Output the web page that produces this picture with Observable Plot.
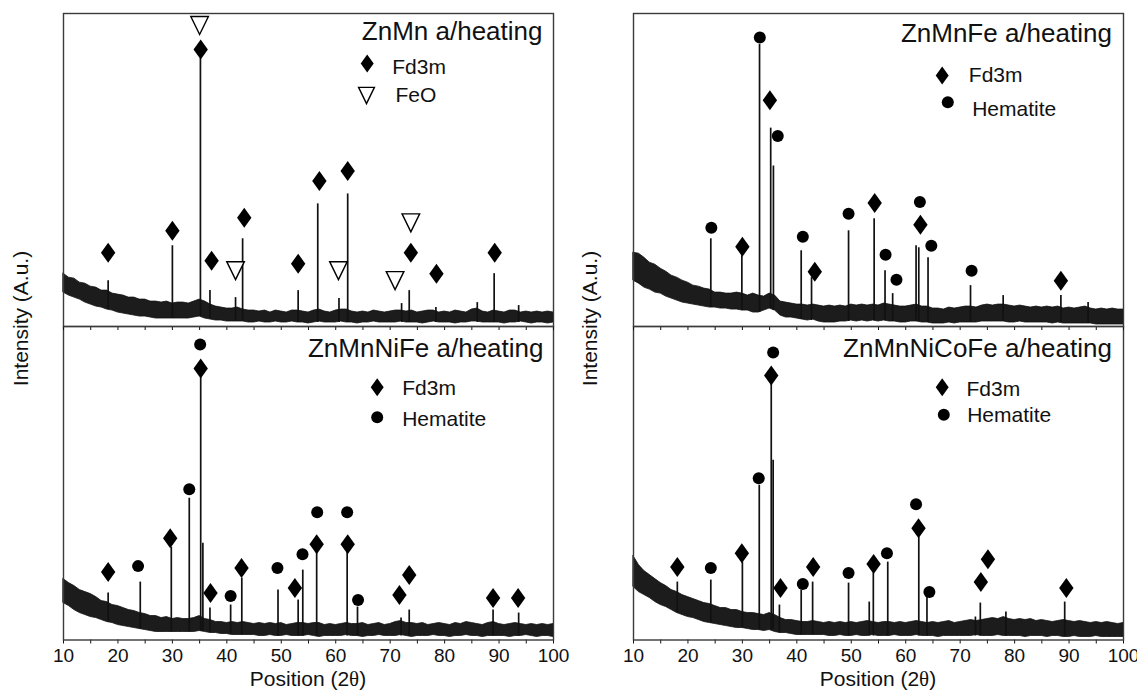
<!DOCTYPE html>
<html><head><meta charset="utf-8">
<script src="https://cdn.jsdelivr.net/npm/d3@7"></script>
<script src="https://cdn.jsdelivr.net/npm/@observablehq/plot@0.6"></script>
<style>
body{margin:0;background:#fff;}
#fig{position:relative;width:1137px;height:691px;overflow:hidden;background:#fff;}
#fig svg{position:absolute;overflow:visible;}
</style></head>
<body><div id="fig"></div>
<script>
// ---- sampling grid (2θ, degrees) for the background envelope ----
const theta = d3.range(10, 101);

// ---- ZnMn a/heating ----
const znmnHi = [53,49,48,44,43,40,39,36,36,33, 32,31,29,29,27,27,25,25,24,25, 23,24,24,23,25,27,25,22,20,19, 18,18,19,17,16,16,15,16,14,16, 15,14,16,16,15,14,16,17,15,14, 16,17,17,15,14,15,14,16,15,14, 15,16,16,15,16,14,15,16,16,14, 15,14,16,15,14,17,18,15,14,16, 15,14,16,16,14,15,14,15,14,15, 14];
const znmnLo = [34,31,29,27,24,22,20,19,17,16, 14,13,12,11,10,10,9,8,8,8, 8,8,8,8,9,10,8,7,6,6, 5,5,5,5,4,4,5,4,4,5, 4,4,5,4,4,3,4,5,4,4, 4,5,4,4,3,4,4,5,4,4, 4,4,5,4,4,4,3,4,5,4, 4,4,3,4,4,5,5,4,4,4, 4,3,4,4,5,4,3,4,4,3, 4];
// peaks: [2θ, apex, base]
const znmnPeaks = [[18.2,46,17],[30.0,81,8],[35.15,269,10],[36.9,36,8],[41.6,29,5],[42.9,88,5],[53.1,36,4],[56.7,123,4],[60.6,28,4],[62.2,133,4],[72.1,23,4],[73.5,36,4],[78.4,19,4],[86.0,24,4],[89.1,53,4],[93.6,21,4]];
const znmnFd3m = [[18.2,74],[30.0,96],[35.2,278],[37.2,66],[43.2,109],[53.1,63],[57.0,146],[62.2,156],[73.8,74],[78.5,53],[89.2,74]];
const znmnFeO = [[35.0,302],[41.6,56],[60.5,56],[70.9,46],[73.8,104]];

// ---- ZnMnNiFe a/heating ----
const znmnnifeHi = [61,57,54,50,48,46,43,39,38,35, 34,32,30,29,27,26,24,24,22,23, 21,22,21,21,22,24,21,20,18,18, 17,18,17,18,17,16,17,16,17,16, 17,15,16,17,17,16,17,17,15,16, 15,16,17,16,16,17,15,16,17,15, 16,18,19,17,17,16,17,15,16,17, 16,15,17,16,18,17,16,15,17,18, 16,15,16,17,16,15,16,15,16,15, 16];
const znmnnifeLo = [37,34,30,27,25,23,22,20,18,17, 15,14,13,12,11,10,9,8,8,8, 8,8,8,8,8,9,8,7,7,6, 6,5,5,5,5,5,4,4,5,4, 4,5,4,4,4,5,4,3,4,4, 4,4,5,4,4,3,4,4,5,4, 4,4,5,4,3,4,4,4,5,4, 4,3,4,4,5,4,4,3,4,4, 4,4,3,4,4,5,4,3,4,4, 3];
const znmnnifePeaks = [[18.2,47,18],[24.1,58,11],[29.8,93,8],[33.1,142,8],[35.2,263,9],[35.6,97,9],[36.9,32,8],[40.7,35,6],[42.75,62,5],[49.4,50,4],[53.1,40,4],[53.95,70,4],[56.5,90,4],[62.1,90,4],[64.0,33,4],[72.0,22,4],[73.5,30,4],[88.9,30,4],[93.6,27,4]];
const znmnnifeFd3m = [[18.2,68],[29.6,102],[35.2,272],[37.0,47],[42.7,72],[52.5,52],[56.5,96],[62.2,96],[71.7,45],[73.5,65],[88.9,42],[93.5,42]];
const znmnnifeHem = [[23.7,74],[33.1,151],[35.1,296],[40.7,44],[49.3,72],[53.9,86],[56.6,128],[62.1,128],[64.1,40]];

// ---- ZnMnFe a/heating ----
const znmnfeHi = [74,73,69,64,62,58,55,51,49,46, 44,41,40,38,37,34,34,33,33,34, 33,31,33,31,30,33,31,25,24,23, 22,22,21,22,21,20,21,20,21,20, 22,21,22,21,22,21,23,22,21,20, 20,21,22,20,20,18,18,17,19,18, 19,20,20,19,21,22,21,22,22,21, 20,21,20,19,20,19,20,19,20,18, 19,18,19,20,18,17,18,17,18,17, 17];
const znmnfeLo = [46,43,39,37,34,33,30,28,26,24, 23,22,21,20,19,19,18,18,17,17, 16,16,14,14,16,18,16,11,9,9, 8,7,6,7,5,4,4,4,5,5, 6,5,6,5,6,5,6,5,5,4, 4,5,5,4,4,3,3,3,4,3, 4,4,4,4,5,5,5,5,5,4, 4,5,4,4,4,4,4,3,4,3, 3,3,3,3,3,2,2,2,2,2, 2];
const znmnfePeaks = [[24.2,88,19],[29.9,71,16],[33.15,283,14],[35.2,199,18],[35.7,161,16],[40.8,76,7],[42.7,49,6],[49.5,96,5],[54.2,108,6],[56.2,56,6],[57.6,33,5],[61.9,81,5],[62.4,79,5],[64.1,69,4],[71.9,41,4],[77.9,31,5],[88.5,31,4],[93.5,24,3]];
const znmnfeFd3m = [[30.0,80],[35.05,227],[43.3,55],[54.3,124],[62.7,102],[88.5,46]];
const znmnfeHem = [[24.3,99],[33.2,290],[36.5,191],[41.1,90],[49.5,113],[56.3,72],[58.3,47],[62.6,125],[64.7,81],[72.1,56]];

// ---- ZnMnNiCoFe a/heating ----
const znmnnicofeHi = [84,75,69,65,61,57,54,50,48,45, 43,41,39,37,36,34,32,32,30,30, 28,27,27,26,25,27,25,22,20,20, 19,18,18,19,18,17,18,17,18,17, 18,17,18,19,18,17,18,18,17,18, 17,18,19,18,17,18,17,18,19,17, 18,19,20,19,20,21,22,21,23,21, 20,21,20,21,19,20,19,18,19,20, 19,18,19,18,17,18,17,18,17,16, 17];
const znmnnicofeLo = [53,48,45,42,38,35,33,30,27,25, 23,22,20,18,17,16,15,14,13,12, 12,11,10,10,9,10,8,7,7,6, 5,5,5,5,5,5,4,4,5,4, 4,5,4,4,5,4,4,4,5,4, 4,4,5,4,4,4,3,4,4,4, 4,4,4,5,4,4,4,5,4,4, 4,4,3,4,4,4,3,4,4,3, 3,4,3,3,3,4,3,3,3,3, 3];
const znmnnicofePeaks = [[18.05,58,27],[24.2,60,17],[30.0,78,12],[33.1,155,10],[35.3,257,10],[35.65,180,10],[36.8,35,7],[40.8,50,5],[42.9,58,5],[49.5,57,4],[53.3,38,4],[54.05,67,4],[56.7,78,4],[62.4,103,4],[63.9,43,4],[72.8,23,4],[73.7,37,4],[78.4,28,4],[89.2,38,4]];
const znmnnicofeFd3m = [[18.05,73],[29.9,87],[35.3,265],[37.0,52],[43.0,73],[54.1,76],[62.35,112],[73.8,58],[75.1,81],[89.5,52]];
const znmnnicofeHem = [[24.2,72],[33.0,162],[35.65,288],[41.1,56],[49.5,67],[56.55,87],[61.9,136],[64.35,48]];

// ---- axis ticks ----
const xTicks = d3.range(10, 101, 5);
const xTickLabels = [10,20,30,40,50,60,70,80,90,100];

// ---- symbols ----
const diamondTall = {draw(ctx, size){const r=Math.sqrt(size/Math.PI),w=r*0.72,h=r;ctx.moveTo(0,-h);ctx.lineTo(w,0);ctx.lineTo(0,h);ctx.lineTo(-w,0);ctx.closePath();}};
const triDown = {draw(ctx, size){const r=Math.sqrt(size/Math.PI),w=r*0.88,h=r*0.9;ctx.moveTo(-w,-h);ctx.lineTo(w,-h);ctx.lineTo(0,h);ctx.closePath();}};

const FONT = "'Liberation Sans', Arial, sans-serif";

function panel(o){
  const band = theta.map((t,i)=>({t, lo:o.lo[i], hi:o.hi[i]}));
  const marks = [
    Plot.areaY(band, {x:"t", y1:"lo", y2:"hi", fill:"#1c1c1c", stroke:"#111", strokeWidth:0.8}),
    Plot.ruleX(o.peaks, {x:d=>d[0], y1:d=>d[2], y2:d=>d[1], stroke:"#111", strokeWidth:1.7}),
    Plot.frame({stroke:"#3a3a3a", strokeWidth:1.4}),
    Plot.dot(o.fd3m, {x:d=>d[0], y:d=>d[1], symbol:diamondTall, r:10, fill:"#000", stroke:"none"})
  ];
  if (o.hem) marks.push(Plot.dot(o.hem, {x:d=>d[0], y:d=>d[1], symbol:"circle", r:6, fill:"#000", stroke:"none"}));
  if (o.feo) marks.push(Plot.dot(o.feo, {x:d=>d[0], y:d=>d[1], symbol:triDown, r:10, fill:"#fff", stroke:"#000", strokeWidth:1.4}));
  // title
  marks.push(Plot.text([o.title], {text:d=>d, frameAnchor:"top-right", textAnchor:"end", lineAnchor:"bottom", dx:o.tdx, dy:o.tdy, fontSize:26, fontFamily:FONT, fill:"#111"}));
  // legend
  const L = o.leg;
  marks.push(Plot.dot([0], {frameAnchor:"top-left", dx:L.d[0], dy:L.d[1], symbol:diamondTall, r:9, fill:"#000", stroke:"none"}));
  marks.push(Plot.text(["Fd3m"], {text:d=>d, frameAnchor:"top-left", textAnchor:"start", lineAnchor:"bottom", dx:L.t1[0], dy:L.t1[1], fontSize:21, fontFamily:FONT, fill:"#111"}));
  if (o.feo) marks.push(Plot.dot([0], {frameAnchor:"top-left", dx:L.s[0], dy:L.s[1], symbol:triDown, r:9, fill:"#fff", stroke:"#000", strokeWidth:1.4}));
  else marks.push(Plot.dot([0], {frameAnchor:"top-left", dx:L.s[0], dy:L.s[1], symbol:"circle", r:6, fill:"#000", stroke:"none"}));
  marks.push(Plot.text([o.feo ? "FeO" : "Hematite"], {text:d=>d, frameAnchor:"top-left", textAnchor:"start", lineAnchor:"bottom", dx:L.t2[0], dy:L.t2[1], fontSize:21, fontFamily:FONT, fill:"#111"}));

  const svg = Plot.plot({
    width:o.w, height:o.h,
    marginLeft:o.ml, marginRight:o.mr, marginTop:o.mt, marginBottom:o.mb,
    x:{domain:[10,100], ticks:xTicks, tickSize:4, tickPadding:4, label:null,
       tickFormat: o.labels ? (d => xTickLabels.includes(d) ? String(d) : "") : (() => "")},
    y:{domain:[0,314], axis:null},
    style:{fontFamily:FONT, fontSize:"19px", background:"transparent", color:"#111", overflow:"visible"},
    marks
  });
  svg.style.position = "absolute";
  svg.style.left = o.left + "px";
  svg.style.top = o.top + "px";
  svg.style.maxWidth = "none";
  return svg;
}

const fig = document.getElementById("fig");
const common = {w:570, ml:63, mr:17};
const commonR = {w:567, ml:63, mr:14};

fig.appendChild(panel({...common, left:0, top:326, h:365, mt:0, mb:51.5, labels:true,
  lo:znmnnifeLo, hi:znmnnifeHi, peaks:znmnnifePeaks, fd3m:znmnnifeFd3m, hem:znmnnifeHem,
  title:"ZnMnNiFe a/heating", tdx:-10, tdy:30.7,
  leg:{d:[313.7,60.7], t1:[338.7,68], s:[313.7,90.7], t2:[338.7,99]}}));
fig.appendChild(panel({...commonR, left:570, top:326, h:365, mt:0, mb:51.5, labels:true,
  lo:znmnnicofeLo, hi:znmnnicofeHi, peaks:znmnnicofePeaks, fd3m:znmnnicofeFd3m, hem:znmnnicofeHem,
  title:"ZnMnNiCoFe a/heating", tdx:-11.6, tdy:30.7,
  leg:{d:[308.7,60.7], t1:[333,69], s:[310.3,88.3], t2:[333.7,95.7]}}));
fig.appendChild(panel({...common, left:0, top:0, h:326, mt:13, mb:0, labels:false,
  lo:znmnLo, hi:znmnHi, peaks:znmnPeaks, fd3m:znmnFd3m, feo:znmnFeO,
  title:"ZnMn a/heating", tdx:-11, tdy:26,
  leg:{d:[303.7,50], t1:[328.7,60.3], s:[303,82], t2:[332,88.7]}}));
fig.appendChild(panel({...commonR, left:570, top:0, h:326, mt:13, mb:0, labels:false,
  lo:znmnfeLo, hi:znmnfeHi, peaks:znmnfePeaks, fd3m:znmnfeFd3m, hem:znmnfeHem,
  title:"ZnMnFe a/heating", tdx:-11.6, tdy:28.7,
  leg:{d:[308.7,62], t1:[335.3,68.7], s:[314.3,88.7], t2:[338.7,102]}}));

// shared axis titles
const ov = d3.select(fig).append("svg").attr("width",1137).attr("height",691)
  .style("left","0px").style("top","0px").style("pointer-events","none")
  .attr("font-family", FONT).attr("fill", "#111");
[28, 597].forEach(x => {
  ov.append("text").attr("transform", `translate(${x},318.5) rotate(-90)`)
    .attr("text-anchor","middle").attr("font-size",21).text("Intensity (A.u.)");
});
[308, 878].forEach(x => {
  const t = ov.append("text").attr("x", x).attr("y", 686).attr("text-anchor","middle").attr("font-size",21);
  t.append("tspan").text("Position (2");
  t.append("tspan").attr("font-family","'Liberation Serif', 'DejaVu Serif', serif").text("θ");
  t.append("tspan").text(")");
});
</script>
</body></html>
